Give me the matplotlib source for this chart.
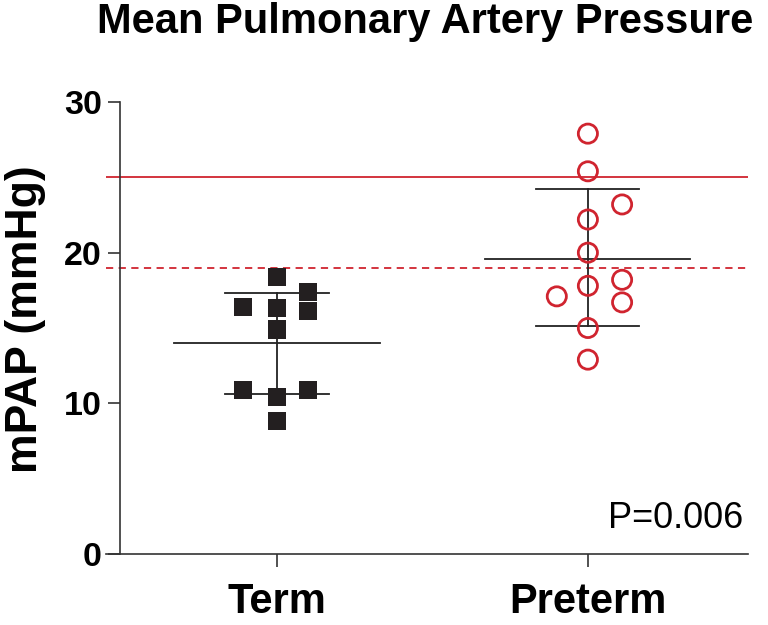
import numpy as np
import matplotlib
matplotlib.use("Agg")
import matplotlib.pyplot as plt

plt.rcParams['font.family'] = ['Liberation Sans', 'DejaVu Sans']

groups = ["Term", "Preterm"]
term_vals = [16.4, 18.4, 16.3, 14.9, 17.4, 16.1, 10.9, 10.4, 10.9, 8.8]
term_off = [-0.11, 0.0, 0.0, 0.0, 0.10, 0.10, -0.11, 0.0, 0.10, 0.0]
preterm_vals = [27.9, 25.4, 22.2, 23.2, 20.0, 17.8, 17.1, 18.2, 16.7, 15.0, 12.9]
preterm_off = [0.0, 0.0, 0.0, 0.11, 0.0, 0.0, -0.10, 0.11, 0.11, 0.0, 0.0]
means = [14.0, 19.6]
sd_lo = [10.6, 15.1]
sd_hi = [17.3, 24.2]
ref_solid = 25.0
ref_dash = 19.0
p_text = "P=0.006"

fig = plt.figure(figsize=(7.68, 6.25), dpi=100)
ax = fig.add_axes([106/768, 71/625, 642/768, 452/625])

red = "#d0242f"

ax.axhline(ref_solid, color=red, lw=1.3, zorder=1)
ax.axhline(ref_dash, color=red, lw=1.3, ls=(0, (4, 3)), zorder=1)

# mean and SD bars
for i in range(2):
    ax.plot([i - 0.33, i + 0.33], [means[i]] * 2, color="#222222", lw=1.3, zorder=2)
    ax.plot([i, i], [sd_lo[i], sd_hi[i]], color="#222222", lw=1.3, zorder=2)
    for v in (sd_lo[i], sd_hi[i]):
        ax.plot([i - 0.166, i + 0.166], [v, v], color="#222222", lw=1.3, zorder=2)

ax.scatter(np.array(term_off) + 0, term_vals, marker="s", s=170, color="#231f20",
           edgecolors="none", zorder=3)
ax.scatter(np.array(preterm_off) + 1, preterm_vals, marker="o", s=190, facecolors="none",
           edgecolors=red, linewidths=2, zorder=3)

ax.set_xlim(-0.55, 1.515)
ax.set_ylim(0, 30)
ax.spines['left'].set_position(('data', -0.505))
ax.spines['left'].set_bounds(0, 30)
for s in ('top', 'right'):
    ax.spines[s].set_visible(False)
for s in ('left', 'bottom'):
    ax.spines[s].set_linewidth(1.2)
    ax.spines[s].set_color("#333333")

ax.set_yticks([0, 10, 20, 30])
ax.set_xticks([0, 1])
ax.set_xticklabels(groups, fontsize=30, fontweight='bold')
ax.tick_params(axis='y', length=9, width=1.2, labelsize=24.5, pad=4, color="#333333")
ax.tick_params(axis='x', length=9, width=1.2, pad=11, color="#333333")
for t in ax.get_yticklabels():
    t.set_fontweight('bold')

ax.set_ylabel("mPAP (mmHg)", fontsize=32, fontweight='bold')
ax.yaxis.set_label_coords(-0.094, 0.52)
ax.text(1.5, 1.2, p_text, ha='right', va='bottom', fontsize=26)
fig.text(425/768, 1 - 22/625, "Mean Pulmonary Artery Pressure", ha='center', va='center',
         fontsize=30, fontweight='bold')

fig.savefig("out.png", dpi=100)
